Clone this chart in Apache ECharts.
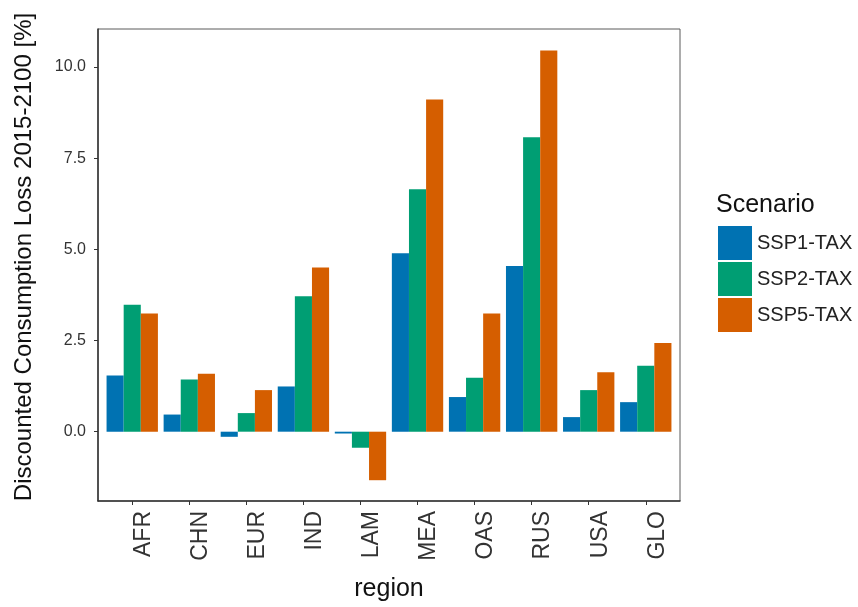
<!DOCTYPE html>
<html>
<head>
<meta charset="utf-8">
<script src="https://cdn.jsdelivr.net/npm/echarts@6/dist/echarts.min.js"></script>
<style>
  html, body { margin: 0; padding: 0; background: #fff; }
  #chart { width: 858px; height: 607px; }
</style>
</head>
<body>
<div id="chart"></div>
<script>
// Regions on the x axis
const regions = ['AFR', 'CHN', 'EUR', 'IND', 'LAM', 'MEA', 'OAS', 'RUS', 'USA', 'GLO'];
// Scenario names
const scenarios = ['SSP1-TAX', 'SSP2-TAX', 'SSP5-TAX'];
// Discounted consumption loss 2015-2100 [%] per region
const ssp1Tax = [1.54, 0.47, -0.14, 1.24, -0.05, 4.89, 0.95, 4.54, 0.40, 0.81];
const ssp2Tax = [3.48, 1.43, 0.51, 3.71, -0.44, 6.65, 1.48, 8.07, 1.14, 1.81];
const ssp5Tax = [3.24, 1.59, 1.14, 4.50, -1.33, 9.11, 3.24, 10.45, 1.63, 2.43];
// Y tick positions
const yTicks = [0, 2.5, 5, 7.5, 10];

const colors = ['#0072B2', '#009E73', '#D55E00'];
const seriesValues = [ssp1Tax, ssp2Tax, ssp5Tax];
const FONT = 'Liberation Sans, Arial, sans-serif';

const chart = echarts.init(document.getElementById('chart'), null, { renderer: 'canvas' });

// One bar series per scenario, dodged side by side around each region index
const series = scenarios.map((name, s) => ({
  name: name,
  type: 'bar',
  data: seriesValues[s].map((v, i) => [i, v]),
  barGap: '0%',
  barCategoryGap: '10%',
  itemStyle: { color: colors[s] },
  emphasis: { disabled: true }
}));

chart.setOption({
  animation: false,
  backgroundColor: '#ffffff',
  textStyle: { fontFamily: FONT },
  grid: {
    left: 98, top: 29, right: 178, bottom: 104,
    show: true,
    backgroundColor: '#ffffff',
    borderColor: '#5a5a5a',
    borderWidth: 1
  },
  title: {
    text: 'Scenario',
    left: 716, top: 193,
    padding: 0,
    textStyle: { fontFamily: FONT, fontSize: 25, fontWeight: 'normal', color: '#111' }
  },
  legend: {
    orient: 'vertical',
    left: 718, top: 226,
    padding: 0,
    itemWidth: 34, itemHeight: 34, itemGap: 2,
    icon: 'rect',
    data: scenarios,
    textStyle: { fontFamily: FONT, fontSize: 20, color: '#222' }
  },
  xAxis: {
    type: 'value',
    min: -0.6, max: 9.6,
    name: 'region',
    nameLocation: 'middle',
    nameGap: 76,
    nameTextStyle: { fontFamily: FONT, fontSize: 25, color: '#111' },
    axisLine: { show: true, onZero: false, lineStyle: { color: '#333', width: 1.5 } },
    axisTick: { show: true, length: 4, customValues: regions.map((r, i) => i), lineStyle: { color: '#333' } },
    axisLabel: {
      customValues: regions.map((r, i) => i),
      formatter: v => regions[Math.round(v)],
      rotate: 90,
      verticalAlign: 'top',
      margin: 10,
      fontFamily: FONT, fontSize: 23, color: '#333'
    },
    splitLine: { show: false }
  },
  yAxis: {
    type: 'value',
    min: -1.9, max: 11.04,
    name: 'Discounted Consumption Loss 2015-2100 [%]',
    nameLocation: 'middle',
    nameGap: 62,
    nameTextStyle: { fontFamily: FONT, fontSize: 24, color: '#111', padding: [0, 0, 0, 16] },
    axisLine: { show: true, onZero: false, lineStyle: { color: '#333', width: 1.5 } },
    axisTick: { show: true, length: 4, customValues: yTicks, lineStyle: { color: '#333' } },
    axisLabel: {
      customValues: yTicks,
      formatter: v => v.toFixed(1),
      margin: 12,
      fontFamily: FONT, fontSize: 16, color: '#333'
    },
    splitLine: { show: false }
  },
  series: series
});
</script>
</body>
</html>
